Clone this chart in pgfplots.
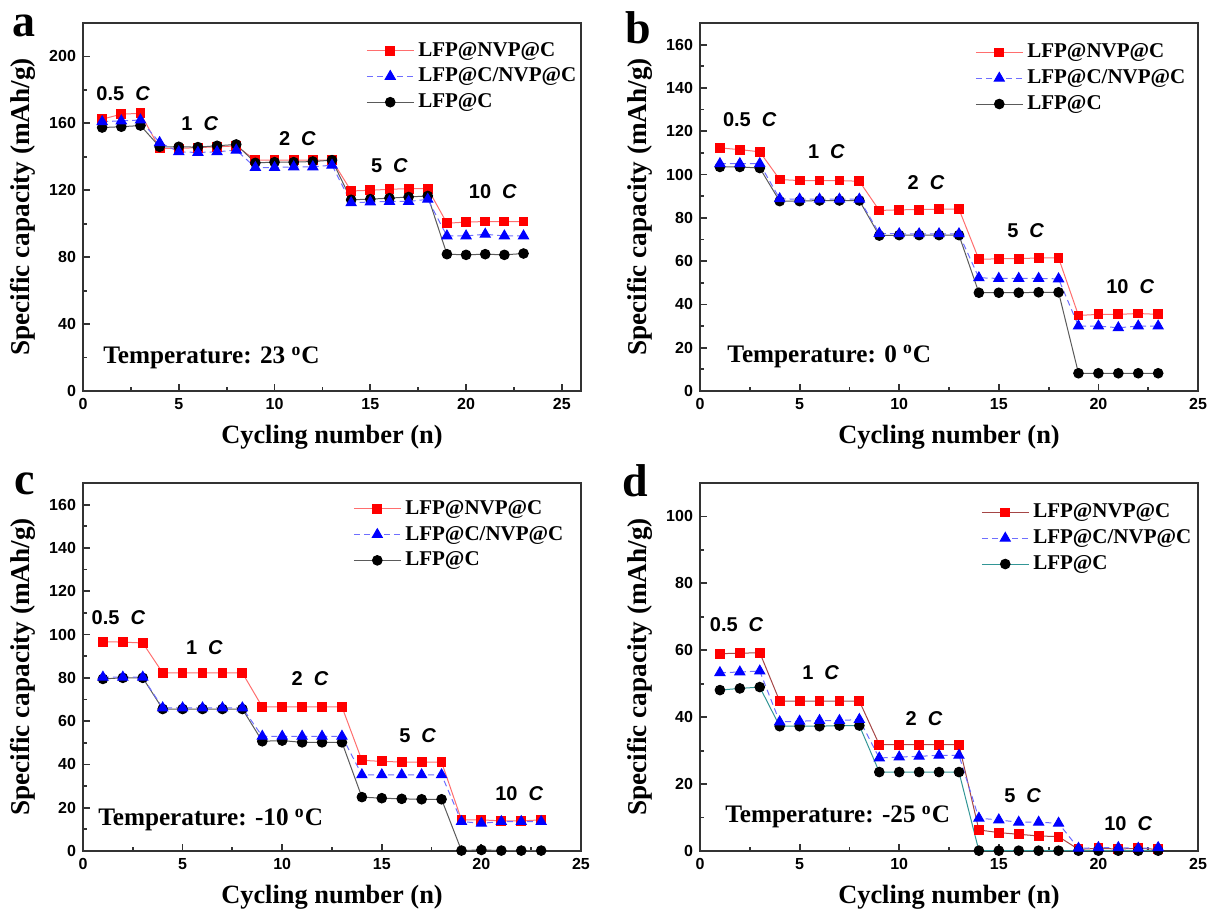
\documentclass[border=0pt]{standalone}
\usepackage{pgfplots}
\usepackage{pgfplotstable}
\pgfplotsset{compat=1.18}
\usepackage{fontspec}
\setmainfont{Liberation Serif}
\newfontfamily\arialfont{Liberation Sans}

\definecolor{redline}{RGB}{255,110,110}
\definecolor{blueline}{RGB}{110,110,255}
\definecolor{grayline}{RGB}{90,90,90}
\definecolor{brownline}{RGB}{165,70,70}
\definecolor{tealline}{RGB}{50,150,150}

% n  A = LFP@NVP@C   B = LFP@C/NVP@C   C = LFP@C
\pgfplotstableread{
n A B C
1 162.5 161 157.5
2 165.5 161.5 158
3 166 162 158.7
4 145 148.5 146
5 145 143 146
6 145.5 142.6 145.8
7 146 143 146.6
8 146.5 144 147.4
9 138 133.6 136.4
10 138 133.6 136.8
11 138 134 136.8
12 138 134 137.2
13 138 135 138
14 119.6 112.5 114.3
15 120 113 114.7
16 120.6 113.3 115.3
17 121 113.3 116
18 121 114.6 116.6
19 100.3 92.7 81.8
20 101 92.7 81.4
21 101.3 93.7 81.8
22 101.3 92.7 81.4
23 101.3 92.7 82.2
}\dataA

\pgfplotstableread{
n A B C
1 112.3 105 103.5
2 111.5 105 103.5
3 110.5 105 103
4 97.7 88.8 87.7
5 97.2 88.6 87.7
6 97.2 88.6 88
7 97.2 88.6 88
8 96.9 88.6 88
9 83.4 72.8 71.8
10 83.7 72.6 72
11 83.8 72.6 72
12 84 72.6 72
13 84 72.6 72
14 60.8 52.3 45.4
15 61.1 52 45.4
16 61.1 52 45.4
17 61.5 52 45.6
18 61.5 51.8 45.6
19 34.9 30 8.2
20 35.4 30 8.2
21 35.4 29.2 8.2
22 35.8 30 8.2
23 35.4 30 8.2
}\dataB

\pgfplotstableread{
n A B C
1 96.7 80.3 79.5
2 96.5 80.3 80
3 96.1 80.3 80
4 82.3 66.1 65.6
5 82.3 66.1 65.6
6 82.3 66.1 65.6
7 82.3 66.1 65.6
8 82.3 66.1 65.6
9 66.6 53 50.7
10 66.6 53 51
11 66.6 53 50.2
12 66.6 53 50.2
13 66.6 53 50.2
14 41.9 35.2 24.9
15 41.4 35.2 24.4
16 41.1 35.2 24.1
17 41.1 35.2 23.9
18 41.1 35.2 23.9
19 14.4 13.6 0.2
20 14.4 12.8 0.5
21 13.9 13.6 0.2
22 13.9 13.6 0.2
23 14.4 13.6 0.2
}\dataC

\pgfplotstableread{
n A B C
1 59 53.3 48.1
2 59.1 53.5 48.6
3 59.3 53.8 49
4 44.8 38.6 37.3
5 44.8 38.8 37.3
6 44.8 39 37.3
7 44.8 39 37.5
8 44.8 39.3 37.5
9 31.8 27.8 23.6
10 31.8 28.1 23.6
11 31.8 28.3 23.6
12 31.8 28.6 23.6
13 31.8 28.6 23.6
14 6.3 9.8 0.1
15 5.5 9.3 0.1
16 5.0 8.6 0.1
17 4.5 8.6 0.1
18 4.3 8.3 0.1
19 0.5 0.8 0.1
20 0.8 1.0 0.1
21 0.6 1.0 0.1
22 0.8 0.8 0.1
23 0.5 1.0 0.1
}\dataD

\pgfplotsset{
  panel/.style={
    scale only axis, width=249pt, height=184pt, clip=false,
    xmin=0, xmax=25, xtick={0,5,...,25},
    minor x tick num=1, minor y tick num=1,
    tick align=inside, tick pos=left,
    major tick length=3.5pt, minor tick length=2pt,
    axis line style={line width=0.9pt, draw=black!80},
    every tick/.style={line width=0.9pt, black!80},
    ticklabel style={font=\arialfont\bfseries\fontsize{8}{9}\selectfont},
    /pgf/number format/assume math mode=true,
    xlabel={Cycling number (n)},
    ylabel={Specific capacity (mAh/g)},
    x label style={at={(axis description cs:0.5,-0.125)}, anchor=center,
      font=\bfseries\fontsize{13.2}{15}\selectfont},
    y label style={at={(axis description cs:-0.12,0.5)}, anchor=center,
      font=\bfseries\fontsize{13.6}{15}\selectfont},
    legend cell align=left,
    legend style={draw=none, fill=none, inner sep=0pt, anchor=north west,
      font=\bfseries\fontsize{10.5}{12}\selectfont, row sep=0.4pt,
      /tikz/every even column/.append style={column sep=3pt}},
    legend image code/.code={\draw[mark repeat=2,mark phase=2,##1]
      plot coordinates {(0pt,0pt) (11.75pt,0pt) (23.5pt,0pt)};},
  },
  redS/.style={color=redline, line width=0.5pt, mark=square*, mark size=2.2pt,
    mark options={fill=red, draw=red, solid}},
  blueS/.style={color=blueline, line width=0.5pt, dash pattern=on 3pt off 2pt,
    mark=triangle*, mark size=2.9pt, mark options={fill=blue, draw=blue, solid}},
  blackS/.style={color=grayline, line width=0.5pt, mark=*, mark size=2.4pt,
    mark options={fill=black, draw=black}},
}
\tikzset{
  rate/.style={font=\arialfont\bfseries\fontsize{10}{11}\selectfont, anchor=center},
  temp/.style={font=\bfseries\fontsize{12.6}{14}\selectfont, anchor=west, inner sep=0pt},
  letter/.style={font=\bfseries\fontsize{23}{24}\selectfont, anchor=base, inner sep=0pt},
}

\newcommand{\rt}[1]{#1\hspace{0.55em}\textit{C}}

\begin{document}
\begin{tikzpicture}
% (a) 23 C
\begin{axis}[panel, at={(0pt,0pt)}, anchor=south west, xmax=26,
  ymin=0, ymax=220, ytick={0,40,...,200},
  legend style={at={(axis description cs:0.568,0.96)}}]
\addplot[redS, forget plot] table[x=n, y=A] {\dataA};
\addplot[blackS, forget plot] table[x=n, y=C] {\dataA};
\addplot[blueS, forget plot] table[x=n, y=B] {\dataA};
\addlegendimage{redS}
\addlegendimage{blueS}
\addlegendimage{blackS}
\legend{LFP@NVP@C, LFP@C/NVP@C, LFP@C}
\node[rate] at (axis cs:2.1,178) {\rt{0.5}};
\node[rate] at (axis cs:6.1,160) {\rt{1}};
\node[rate] at (axis cs:11.2,151) {\rt{2}};
\node[rate] at (axis cs:16,135) {\rt{5}};
\node[rate] at (axis cs:21.4,119) {\rt{10}};
\node[temp] at (axis cs:1.04,19.7) {Temperature: 23 \textsuperscript{o}C};
\node[letter] at (axis description cs:-0.118,0.962) {a};
\end{axis}

% (b) 0 C
\begin{axis}[panel, at={(308.5pt,0pt)}, anchor=south west,
  ymin=0, ymax=170, ytick={0,20,...,160},
  legend style={at={(axis description cs:0.552,0.955)}}]
\addplot[redS, forget plot] table[x=n, y=A] {\dataB};
\addplot[blackS, forget plot] table[x=n, y=C] {\dataB};
\addplot[blueS, forget plot] table[x=n, y=B] {\dataB};
\addlegendimage{redS}
\addlegendimage{blueS}
\addlegendimage{blackS}
\legend{LFP@NVP@C, LFP@C/NVP@C, LFP@C}
\node[rate] at (axis cs:2.5,125.5) {\rt{0.5}};
\node[rate] at (axis cs:6.35,110.8) {\rt{1}};
\node[rate] at (axis cs:11.35,96.2) {\rt{2}};
\node[rate] at (axis cs:16.35,74) {\rt{5}};
\node[rate] at (axis cs:21.6,48) {\rt{10}};
\node[temp] at (axis cs:1.36,15.8) {Temperature: 0 \textsuperscript{o}C};
\node[letter] at (axis description cs:-0.1235,0.945) {b};
\end{axis}

% (c) -10 C
\begin{axis}[panel, at={(0pt,-230pt)}, anchor=south west,
  ymin=0, ymax=170, ytick={0,20,...,160},
  legend style={at={(axis description cs:0.542,0.965)}}]
\addplot[redS, forget plot] table[x=n, y=A] {\dataC};
\addplot[blackS, forget plot] table[x=n, y=C] {\dataC};
\addplot[blueS, forget plot] table[x=n, y=B] {\dataC};
\addlegendimage{redS}
\addlegendimage{blueS}
\addlegendimage{blackS}
\legend{LFP@NVP@C, LFP@C/NVP@C, LFP@C}
\node[rate] at (axis cs:1.78,108) {\rt{0.5}};
\node[rate] at (axis cs:6.1,94) {\rt{1}};
\node[rate] at (axis cs:11.4,79.6) {\rt{2}};
\node[rate] at (axis cs:16.8,53.5) {\rt{5}};
\node[rate] at (axis cs:21.9,26.7) {\rt{10}};
\node[temp] at (axis cs:0.75,14.3) {Temperature: -10 \textsuperscript{o}C};
\node[letter] at (axis description cs:-0.118,0.97) {c};
\end{axis}

% (d) -25 C
\begin{axis}[panel, at={(308.5pt,-230pt)}, anchor=south west,
  ymin=0, ymax=110, ytick={0,20,...,100},
  legend style={at={(axis description cs:0.564,0.955)}}]
\addplot[redS, color=brownline, forget plot] table[x=n, y=A] {\dataD};
\addplot[blackS, color=tealline, forget plot] table[x=n, y=C] {\dataD};
\addplot[blueS, forget plot] table[x=n, y=B] {\dataD};
\addlegendimage{redS, color=brownline}
\addlegendimage{blueS}
\addlegendimage{blackS, color=tealline}
\legend{LFP@NVP@C, LFP@C/NVP@C, LFP@C}
\node[rate] at (axis cs:1.84,67.8) {\rt{0.5}};
\node[rate] at (axis cs:6.06,53.4) {\rt{1}};
\node[rate] at (axis cs:11.25,39.5) {\rt{2}};
\node[rate] at (axis cs:16.2,16.7) {\rt{5}};
\node[rate] at (axis cs:21.5,8.2) {\rt{10}};
\node[temp] at (axis cs:1.25,10.2) {Temperature: -25 \textsuperscript{o}C};
\node[letter] at (axis description cs:-0.13,0.963) {d};
\end{axis}

\pgfresetboundingbox
\path[use as bounding box] (-41.5pt,-260pt) rectangle (563.5pt,195.5pt);
\end{tikzpicture}
\end{document}
